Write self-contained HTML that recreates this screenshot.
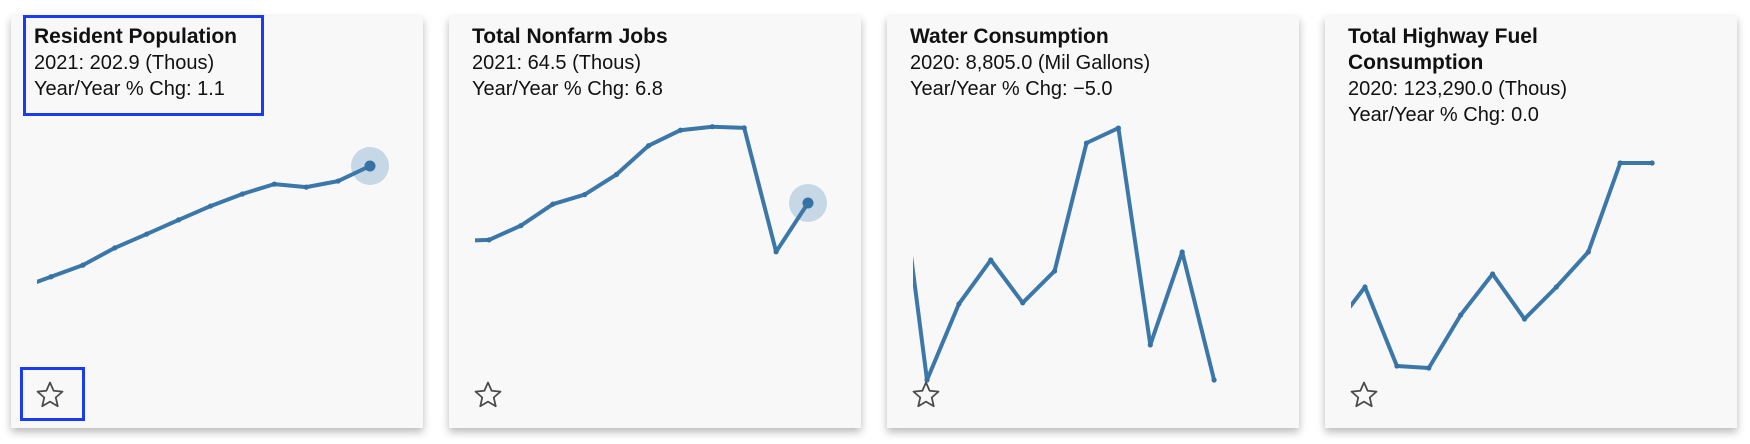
<!DOCTYPE html>
<html><head><meta charset="utf-8"><style>
html,body{margin:0;padding:0;background:#fff;width:1750px;height:444px;overflow:hidden;font-family:"Liberation Sans",Arial,sans-serif;}
.card{position:absolute;top:16px;width:412px;height:412px;background:#f8f8f8;box-shadow:0 4px 8px rgba(0,0,0,0.28);}
.txt{position:absolute;left:23px;top:8px;font-size:20px;line-height:26px;color:#111;white-space:nowrap;}
.txt b{font-weight:bold;font-size:21px;}
.star{position:absolute;left:11px;top:364px;width:30px;height:30px;}
.hl{position:absolute;border:3px solid #1a3cf0;box-sizing:border-box;}
svg#charts{position:absolute;left:0;top:0;}
</style></head><body>
<div class="card" style="left:11px">
 <div class="txt"><b>Resident Population</b><br>2021: 202.9 (Thous)<br>Year/Year % Chg: 1.1</div>
 <svg class="star" style="left:24px" viewBox="0 0 24 24"><polygon points="12,2 14.9,8.6 22,9.3 16.6,14 18.2,21 12,17.3 5.8,21 7.4,14 2,9.3 9.1,8.6" fill="none" stroke="#4a4a4a" stroke-width="1.4" stroke-linejoin="round"/></svg>
</div>
<div class="card" style="left:449px">
 <div class="txt"><b>Total Nonfarm Jobs</b><br>2021: 64.5 (Thous)<br>Year/Year % Chg: 6.8</div>
 <svg class="star" style="left:24px" viewBox="0 0 24 24"><polygon points="12,2 14.9,8.6 22,9.3 16.6,14 18.2,21 12,17.3 5.8,21 7.4,14 2,9.3 9.1,8.6" fill="none" stroke="#4a4a4a" stroke-width="1.4" stroke-linejoin="round"/></svg>
</div>
<div class="card" style="left:887px">
 <div class="txt"><b>Water Consumption</b><br>2020: 8,805.0 (Mil Gallons)<br>Year/Year % Chg: −5.0</div>
 <svg class="star" style="left:24px;z-index:2" viewBox="0 0 24 24"><polygon points="12,2 14.9,8.6 22,9.3 16.6,14 18.2,21 12,17.3 5.8,21 7.4,14 2,9.3 9.1,8.6" fill="none" stroke="#4a4a4a" stroke-width="1.4" stroke-linejoin="round"/></svg>
</div>
<div class="card" style="left:1325px">
 <div class="txt"><b>Total Highway Fuel<br>Consumption</b><br>2020: 123,290.0 (Thous)<br>Year/Year % Chg: 0.0</div>
 <svg class="star" style="left:24px" viewBox="0 0 24 24"><polygon points="12,2 14.9,8.6 22,9.3 16.6,14 18.2,21 12,17.3 5.8,21 7.4,14 2,9.3 9.1,8.6" fill="none" stroke="#4a4a4a" stroke-width="1.4" stroke-linejoin="round"/></svg>
</div>
<svg id="charts" width="1750" height="444"></svg>
<div class="hl" style="left:23px;top:15px;width:241px;height:101px"></div>
<div class="hl" style="left:20px;top:367px;width:65px;height:54px"></div>
<script>
const years1 = [2010,2011,2012,2013,2014,2015,2016,2017,2018,2019,2020,2021];
const popValues = [174.5,177.2,179.9,183.9,187.1,190.4,193.6,196.4,198.7,198.0,199.4,202.9];
const years2 = [2010,2011,2012,2013,2014,2015,2016,2017,2018,2019,2020,2021];
const jobsValues = [61.3,61.4,62.6,64.4,65.2,66.9,69.3,70.6,70.9,70.8,60.4,64.5];
const years3 = [2010,2011,2012,2013,2014,2015,2016,2017,2018,2019,2020];
const waterValues = [9702,8805,9080,9239,9084,9199,9662,9716,8932,9268,8805];
const years4 = [2010,2011,2012,2013,2014,2015,2016,2017,2018,2019,2020];
const fuelValues = [112500,115230,110095,109965,113410,116075,113150,115230,117505,123290,123290];

const NS='http://www.w3.org/2000/svg';
const svg=document.getElementById('charts');
function lin(d0,d1,r0,r1){return v=>r0+(v-d0)*(r1-r0)/(d1-d0);}
function xScale(cardLeft){return yr=>cardLeft+40+(yr-2011)*31.9;}
const charts=[
 {id:'population',left:11,years:years1,vals:popValues,y:lin(170,210,307.8,135.4),hl:true},
 {id:'jobs',left:449,years:years2,vals:jobsValues,y:lin(55,75,316.2,77.8),hl:true},
 {id:'water',left:887,years:years3,vals:waterValues,y:lin(8500,10000,464.3,49.6),hl:false},
 {id:'fuel',left:1325,years:years4,vals:fuelValues,y:lin(100000,130000,521.3,59.8),hl:false}
];
charts.forEach(c=>{
 const x=xScale(c.left);
 const cp=document.createElementNS(NS,'clipPath');cp.setAttribute('id','clip-'+c.id);
 const r=document.createElementNS(NS,'rect');
 r.setAttribute('x',c.left+26);r.setAttribute('y',16);r.setAttribute('width',386);r.setAttribute('height',412);
 cp.appendChild(r);svg.appendChild(cp);
 const g=document.createElementNS(NS,'g');g.setAttribute('clip-path','url(#clip-'+c.id+')');
 
 
 svg.appendChild(g);
 const n=c.vals.length;
 if(c.hl){
  const halo=document.createElementNS(NS,'circle');
  halo.setAttribute('cx',x(c.years[n-1]));halo.setAttribute('cy',c.y(c.vals[n-1]));halo.setAttribute('r',19);
  halo.setAttribute('fill','#c6d7e5');
  
  
  g.appendChild(halo);
 }
 const pts=c.vals.map((v,i)=>x(c.years[i]).toFixed(1)+','+c.y(v).toFixed(1)).join(' ');
 const pl=document.createElementNS(NS,'polyline');
 pl.setAttribute('points',pts);pl.setAttribute('fill','none');pl.setAttribute('stroke','#3b78a9');
 pl.setAttribute('stroke-width','4');pl.setAttribute('stroke-linejoin','round');
 
 
 g.appendChild(pl);
 c.vals.forEach((v,i)=>{
  const d=document.createElementNS(NS,'circle');
  d.setAttribute('cx',x(c.years[i]));d.setAttribute('cy',c.y(v));
  d.setAttribute('r',(c.hl&&i===n-1)?5.5:2.6);d.setAttribute('fill','#3672a4');
  
  
  g.appendChild(d);
 });
});
</script>
</body></html>
